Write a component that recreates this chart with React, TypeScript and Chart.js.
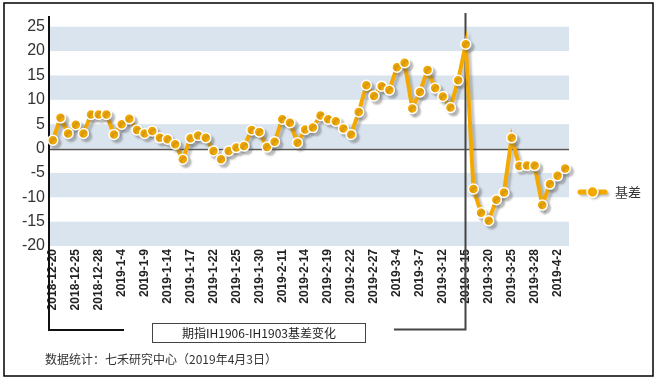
import React, { useEffect, useRef } from "react";
import { Chart, registerables } from "chart.js";
Chart.register(...registerables);

const dates = [
  "2018-12-20","2018-12-21","2018-12-24","2018-12-25","2018-12-26","2018-12-27","2018-12-28",
  "2019-1-2","2019-1-3","2019-1-4","2019-1-7","2019-1-8","2019-1-9","2019-1-10","2019-1-11",
  "2019-1-14","2019-1-15","2019-1-16","2019-1-17","2019-1-18","2019-1-21","2019-1-22","2019-1-23",
  "2019-1-24","2019-1-25","2019-1-28","2019-1-29","2019-1-30","2019-1-31","2019-2-1","2019-2-11",
  "2019-2-12","2019-2-13","2019-2-14","2019-2-15","2019-2-18","2019-2-19","2019-2-20","2019-2-21",
  "2019-2-22","2019-2-25","2019-2-26","2019-2-27","2019-2-28","2019-3-1","2019-3-4","2019-3-5",
  "2019-3-6","2019-3-7","2019-3-8","2019-3-11","2019-3-12","2019-3-13","2019-3-14","2019-3-15",
  "2019-3-18","2019-3-19","2019-3-20","2019-3-21","2019-3-22","2019-3-25","2019-3-26","2019-3-27",
  "2019-3-28","2019-3-29","2019-4-1","2019-4-2","2019-4-3",
];

const basis = [
  1.7, 6.3, 3.1, 4.9, 3.1, 7.0, 7.0, 7.0, 2.9, 5.0, 6.1, 3.8, 3.1, 3.6, 2.2, 1.9, 0.9, -2.2,
  2.1, 2.7, 2.2, -0.5, -2.2, -0.5, 0.2, 0.5, 3.8, 3.4, 0.3, 1.4, 6.0, 5.3, 1.2, 3.9, 4.3, 6.8,
  6.0, 5.6, 4.1, 2.9, 7.5, 13.0, 10.8, 12.8, 12.0, 16.7, 17.6, 8.2, 11.6, 16.1, 12.4, 10.7, 8.4,
  14.0, 21.4, -8.3, -13.2, -14.8, -10.5, -9.0, 2.2, -3.6, -3.5, -3.5, -11.6, -7.3, -5.6, -4.1,
];

const yTicks = [-20, -15, -10, -5, 0, 5, 10, 15, 20, 25];
const bandRanges = [[20, 25], [10, 15], [0, 5], [-10, -5], [-20, -15]];
const seriesName = "基差";
const markerDate = "2019-3-15";
const boxTitle = "期指IH1906-IH1903基差变化";
const sourceNote = "数据统计：七禾研究中心（2019年4月3日）";

const ORANGE = "#f4a900";
const FONT = '"Liberation Sans", Arial, "Noto Sans CJK SC", sans-serif';
const CJK = '"Noto Sans CJK SC", "Liberation Sans", sans-serif';

const decorPlugin = {
  id: "decor",
  beforeDraw(chart: any) {
    const { ctx, chartArea } = chart;
    const y = chart.scales.y;
    ctx.save();
    ctx.fillStyle = "#fff";
    ctx.fillRect(0, 0, chart.width, chart.height);
    ctx.fillStyle = "#dae4ef";
    for (const [a, b] of bandRanges) {
      const top = y.getPixelForValue(b);
      const bot = y.getPixelForValue(a);
      ctx.fillRect(chartArea.left, top, chartArea.right - chartArea.left, bot - top);
    }
    ctx.restore();
  },
  beforeDatasetsDraw(chart: any) {
    const { ctx, chartArea } = chart;
    const y = chart.scales.y;
    const x = chart.scales.x;
    ctx.save();
    const y0 = Math.round(y.getPixelForValue(0)) + 0.5;
    ctx.strokeStyle = "#555";
    ctx.lineWidth = 1.5;
    ctx.beginPath();
    ctx.moveTo(chartArea.left, y0);
    ctx.lineTo(chartArea.right, y0);
    ctx.stroke();
    ctx.strokeStyle = "#111";
    ctx.lineWidth = 2;
    ctx.beginPath();
    ctx.moveTo(chartArea.left, chartArea.top);
    ctx.lineTo(chartArea.left, 330);
    ctx.lineTo(124, 330);
    ctx.stroke();
    const xm = Math.round(x.getPixelForValue(dates.indexOf(markerDate))) - 0.5;
    ctx.strokeStyle = "#444";
    ctx.lineWidth = 2;
    ctx.beginPath();
    ctx.moveTo(xm, 13);
    ctx.lineTo(xm, 329.5);
    ctx.lineTo(394, 329.5);
    ctx.stroke();
    ctx.restore();
  },
  beforeDatasetDraw(chart: any) {
    const ctx = chart.ctx;
    ctx.save();
    ctx.shadowColor = "rgba(90,90,90,0.35)";
    ctx.shadowOffsetX = 3;
    ctx.shadowOffsetY = 3;
    ctx.shadowBlur = 2;
  },
  afterDatasetDraw(chart: any) {
    chart.ctx.restore();
  },
  afterDraw(chart: any) {
    const ctx = chart.ctx;
    ctx.save();
    ctx.shadowColor = "rgba(90,90,90,0.35)";
    ctx.shadowOffsetX = 2;
    ctx.shadowOffsetY = 2;
    ctx.shadowBlur = 2;
    ctx.strokeStyle = ORANGE;
    ctx.lineWidth = 5;
    ctx.lineCap = "round";
    ctx.beginPath();
    ctx.moveTo(580, 192);
    ctx.lineTo(605, 192);
    ctx.stroke();
    ctx.fillStyle = ORANGE;
    ctx.strokeStyle = "#fff";
    ctx.lineWidth = 1.5;
    ctx.beginPath();
    ctx.arc(592.5, 192, 5.5, 0, Math.PI * 2);
    ctx.fill();
    ctx.shadowColor = "transparent";
    ctx.stroke();
    ctx.fillStyle = "#333";
    ctx.font = `13px ${CJK}`;
    ctx.textAlign = "left";
    ctx.textBaseline = "middle";
    ctx.fillText(seriesName, 615, 192);
    ctx.strokeStyle = "#444";
    ctx.lineWidth = 1;
    ctx.strokeRect(152.5, 323.5, 213, 19);
    ctx.fillStyle = "#222";
    ctx.font = `12px ${CJK}`;
    ctx.textAlign = "center";
    ctx.fillText(boxTitle, 259, 333);
    ctx.fillStyle = "#333";
    ctx.textAlign = "left";
    ctx.fillText(sourceNote, 45, 359);
    ctx.strokeStyle = "#000";
    ctx.lineWidth = 1.5;
    ctx.strokeRect(4, 3, 649, 373);
    ctx.restore();
  },
};

export default function App() {
  const ref = useRef<HTMLCanvasElement | null>(null);
  useEffect(() => {
    if (!ref.current) return;
    const chart = new Chart(ref.current, {
      type: "line",
      data: {
        labels: dates,
        datasets: [
          {
            label: seriesName,
            data: basis,
            borderColor: ORANGE,
            backgroundColor: ORANGE,
            borderWidth: 4,
            pointRadius: 5,
            pointBorderWidth: 1.5,
            pointBorderColor: "#fff",
            pointBackgroundColor: ORANGE,
            tension: 0,
            clip: false as any,
          },
        ],
      },
      options: {
        responsive: false,
        animation: false,
        devicePixelRatio: 1,
        layout: { padding: { top: 16, right: 89, bottom: 0, left: 0 } },
        plugins: { legend: { display: false }, tooltip: { enabled: false } },
        scales: {
          x: {
            type: "category",
            offset: true,
            grid: { display: false, drawTicks: false },
            border: { display: false },
            afterFit(scale: any) {
              scale.height = 133;
            },
            ticks: {
              autoSkip: false,
              minRotation: 90,
              maxRotation: 90,
              padding: 3,
              color: "#222",
              font: { family: FONT, size: 12, weight: "bold" },
              callback: (_v: any, i: number) => (i % 3 === 0 ? dates[i] : ""),
            },
          },
          y: {
            min: -20,
            max: 27.2,
            grid: { display: false, drawTicks: false },
            border: { display: false },
            afterFit(scale: any) {
              scale.width = 49;
            },
            afterBuildTicks(scale: any) {
              scale.ticks = yTicks.map((v) => ({ value: v }));
            },
            ticks: {
              padding: 4,
              color: "#333",
              font: { family: FONT, size: 16 },
            },
          },
        },
      },
      plugins: [decorPlugin],
    });
    return () => chart.destroy();
  }, []);
  return (
    <div style={{ position: "absolute", left: 0, top: 0, width: 658, height: 379 }}>
      <canvas ref={ref} width={658} height={379} style={{ display: "block" }} />
    </div>
  );
}
